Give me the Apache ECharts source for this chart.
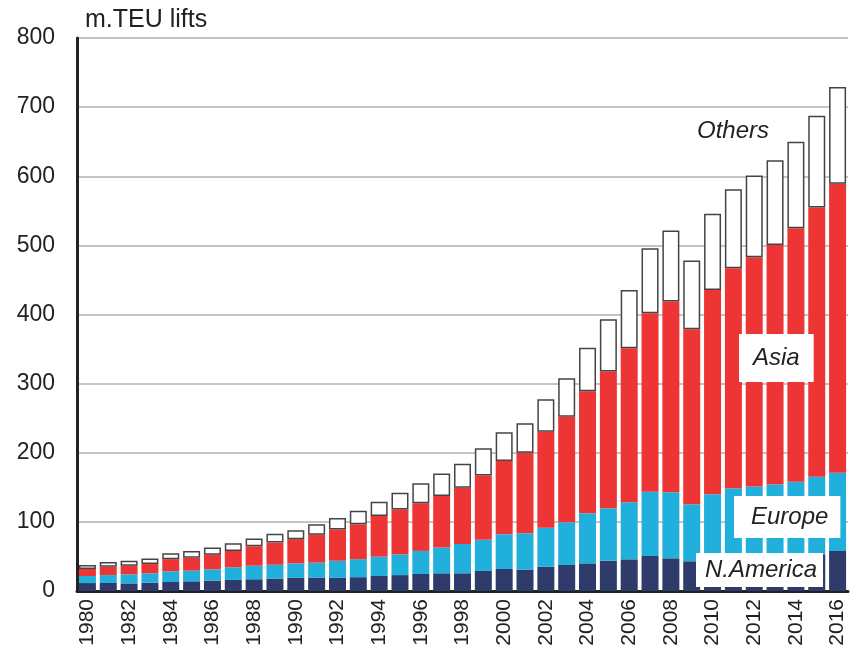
<!DOCTYPE html>
<html>
<head>
<meta charset="utf-8">
<script src="https://cdn.jsdelivr.net/npm/echarts@6/dist/echarts.min.js"></script>
<style>html,body{margin:0;padding:0;background:#fff}#c{width:859px;height:670px}</style>
</head>
<body>
<div id="c"></div>
<script>
const years = ['1980','1981','1982','1983','1984','1985','1986','1987','1988','1989','1990','1991','1992','1993','1994','1995','1996','1997','1998','1999','2000','2001','2002','2003','2004','2005','2006','2007','2008','2009','2010','2011','2012','2013','2014','2015','2016'];
const nAmerica = [11.5,11.6,11,12,13,14,15,16,17,18,19,19.5,19,20,21.7,23,24.6,25.6,25.6,29,31.8,31,35,37.6,40,43.8,45.8,50.6,47.3,43,47,49,50,51,53,53,57.9];
const europe = [10.2,11.4,13,13.6,15.5,15.4,16.4,18.3,19.6,20,21,21.5,24.7,26,28,30,33.4,37.4,42.4,45,50.2,52.5,56.6,61.8,72.4,75.9,82.6,93.1,95.5,82.5,93,99.6,101,103.4,105,112.4,113.3];
const asia = [10.1,12,12.6,13.4,17.5,18.6,21.1,23.7,28.1,32,35,40.5,45.3,50.5,58.8,65,69,74.5,81.5,93,106,116.5,138.9,152.6,176.4,197.7,222.6,258.2,275.9,253.2,295.6,318.4,332,346.3,366.9,389.3,417.8];
const others = [5.8,7,7.3,8,8.5,10,10.5,11,11.3,13,13,15,16.5,19.5,20.5,24,29,32.5,34.5,39.5,41.7,42.7,46.9,55.8,63.2,75.6,84.6,94.1,102.7,99.3,110,114.3,118,122.3,125.1,132.7,140];
const yTicks = [0,100,200,300,400,500,600,700,800];

const FONT = '"Liberation Sans", Arial, Helvetica, sans-serif';
const chart = echarts.init(document.getElementById('c'));
const barW = 17;
function ser(name, data, color, border) {
  return {
    name: name, type: 'bar', stack: 'total', data: data, barWidth: barW,
    itemStyle: { color: color, borderColor: border ? '#444' : color, borderWidth: border ? 1.5 : 0 },
    emphasis: { disabled: true }
  };
}
function label(text, x, y, bg, padding) {
  return {
    type: 'text', left: x, top: y, z: 100,
    style: {
      text: text, font: 'italic 24px ' + FONT, fill: '#222',
      backgroundColor: bg, padding: padding
    }
  };
}
chart.setOption({
  animation: false,
  backgroundColor: '#fff',
  grid: { left: 77, right: 11, top: 38, bottom: 79 },
  xAxis: {
    type: 'category', data: years,
    axisLine: { lineStyle: { color: '#222', width: 3 } },
    axisTick: { show: false },
    axisLabel: { interval: 1, rotate: 90, fontSize: 21, color: '#222', fontFamily: FONT, margin: 8 }
  },
  yAxis: {
    type: 'value', min: yTicks[0], max: yTicks[yTicks.length - 1], interval: 100,
    axisLine: { show: true, lineStyle: { color: '#222', width: 3 } },
    axisTick: { show: false },
    axisLabel: { fontSize: 23, color: '#222', fontFamily: FONT, margin: 22 },
    splitLine: { lineStyle: { color: '#c4c4c4', width: 2 } }
  },
  series: [
    ser('N.America', nAmerica, '#2f3b6b', false),
    ser('Europe', europe, '#21b0dc', false),
    ser('Asia', asia, '#ee3535', false),
    ser('Others', others, '#ffffff', true)
  ],
  graphic: [
    { type: 'text', left: 85, top: 8, style: { text: 'm.TEU lifts', font: '25px ' + FONT, fill: '#222' } },
    label('Others', 697, 119, null, 0),
    label('Asia', 739, 334, '#fff', [12, 14, 12, 14]),
    label('Europe', 734, 496, '#fff', [9, 12, 9, 17]),
    label('N.America', 696, 553, '#fff', [5, 6, 5, 9])
  ]
});
</script>
</body>
</html>
